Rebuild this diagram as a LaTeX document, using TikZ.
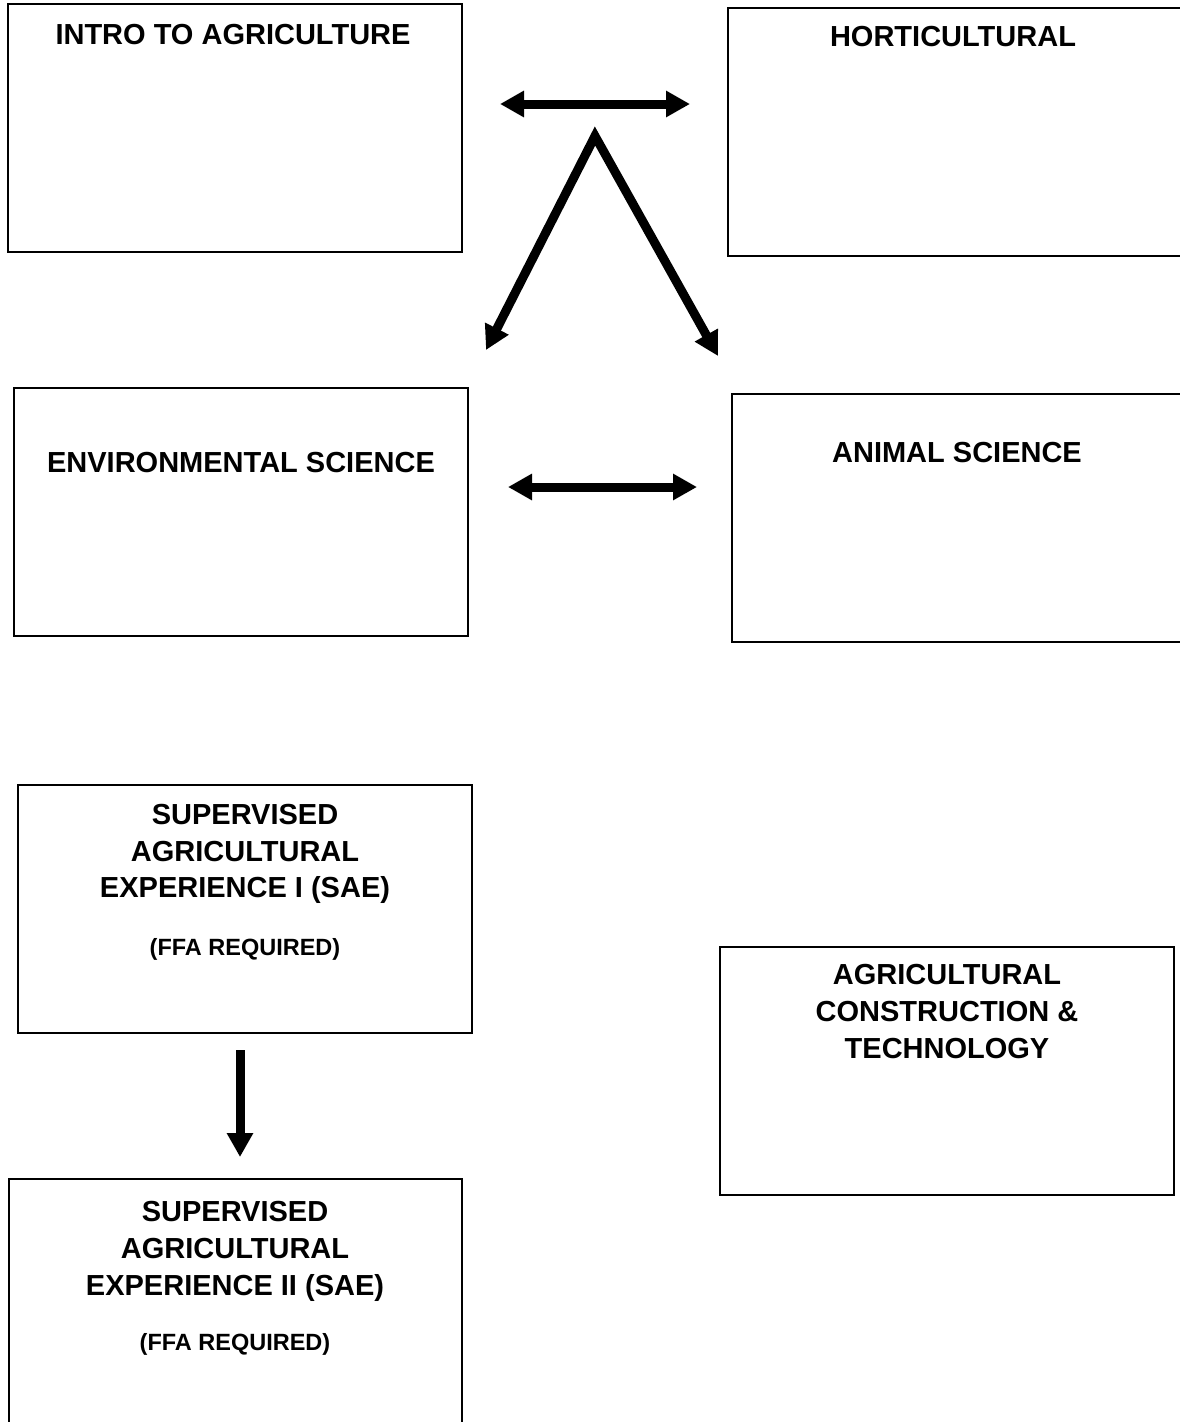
\documentclass[tikz,border=0pt]{standalone}
\usepackage{fontspec}
\setmainfont{Liberation Sans}
\usetikzlibrary{arrows.meta}
\begin{document}
\begin{tikzpicture}[x=1pt,y=-1pt,
  box/.style={draw=black, line width=1.8pt, rectangle, inner sep=0pt, minimum height=248pt},
  title/.style={font=\fontsize{29}{36.6}\selectfont\bfseries, align=center, inner sep=0pt},
  note/.style={font=\fontsize{23.5}{28}\selectfont\bfseries, inner sep=0pt},
  arr/.style={line width=9pt, -{Triangle[length=24pt,width=25pt]}},
  darr/.style={line width=9pt, {Triangle[length=24pt,width=25pt]}-{Triangle[length=24pt,width=25pt]}}]
\useasboundingbox (0,0) rectangle (1180,1422);
\clip (0,0) rectangle (1180,1422);

% boxes
\node[box, minimum width=454pt] (intro) at (235,128) {};
\node[box, minimum width=456pt] (hort) at (956,132) {};
\node[box, minimum width=454pt] (env) at (241,512) {};
\node[box, minimum width=452pt] (animal) at (958,518) {};
\node[box, minimum width=454pt] (saeone) at (245,909) {};
\node[box, minimum width=454pt] (agcon) at (947,1071) {};
\node[box, minimum width=453pt] (saetwo) at (235.5,1303) {};

% titles
\node[title, anchor=base] (tintro) at (233,44.4) {INTRO TO AGRICULTURE};
\node[title, anchor=base] (thort) at (953,46.4) {HORTICULTURAL};
\node[title, anchor=base] (tenv) at (241,472.4) {ENVIRONMENTAL SCIENCE};
\node[title, anchor=base] (tanimal) at (957,462.4) {ANIMAL SCIENCE};
\node[title, anchor=north] (tsaeone) at (245,804) {SUPERVISED\\AGRICULTURAL\\EXPERIENCE I (SAE)};
\node[note, anchor=base] (nsaeone) at (245,955) {(FFA REQUIRED)};
\node[title, anchor=north] (tagcon) at (947,964.5) {AGRICULTURAL\\CONSTRUCTION \&\\TECHNOLOGY};
\node[title, anchor=north] (tsaetwo) at (235,1201.5) {SUPERVISED\\AGRICULTURAL\\EXPERIENCE II (SAE)};
\node[note, anchor=base] (nsaetwo) at (235,1350) {(FFA REQUIRED)};

% arrows
\coordinate (topL) at (500,104);
\coordinate (topR) at (690,104);
\draw[darr] (topL) -- (topR);

\coordinate (vL) at (486,350);
\coordinate (vA) at (595,136);
\coordinate (vR) at (718,356);
\draw[darr, line join=miter] (vL) -- (vA) -- (vR);

\coordinate (midL) at (508,487);
\coordinate (midR) at (697,487);
\draw[darr] (midL) -- (midR);

\coordinate (dnA) at (240,1050);
\coordinate (dnB) at (240,1157);
\draw[arr] (dnA) -- (dnB);
\end{tikzpicture}
\end{document}
